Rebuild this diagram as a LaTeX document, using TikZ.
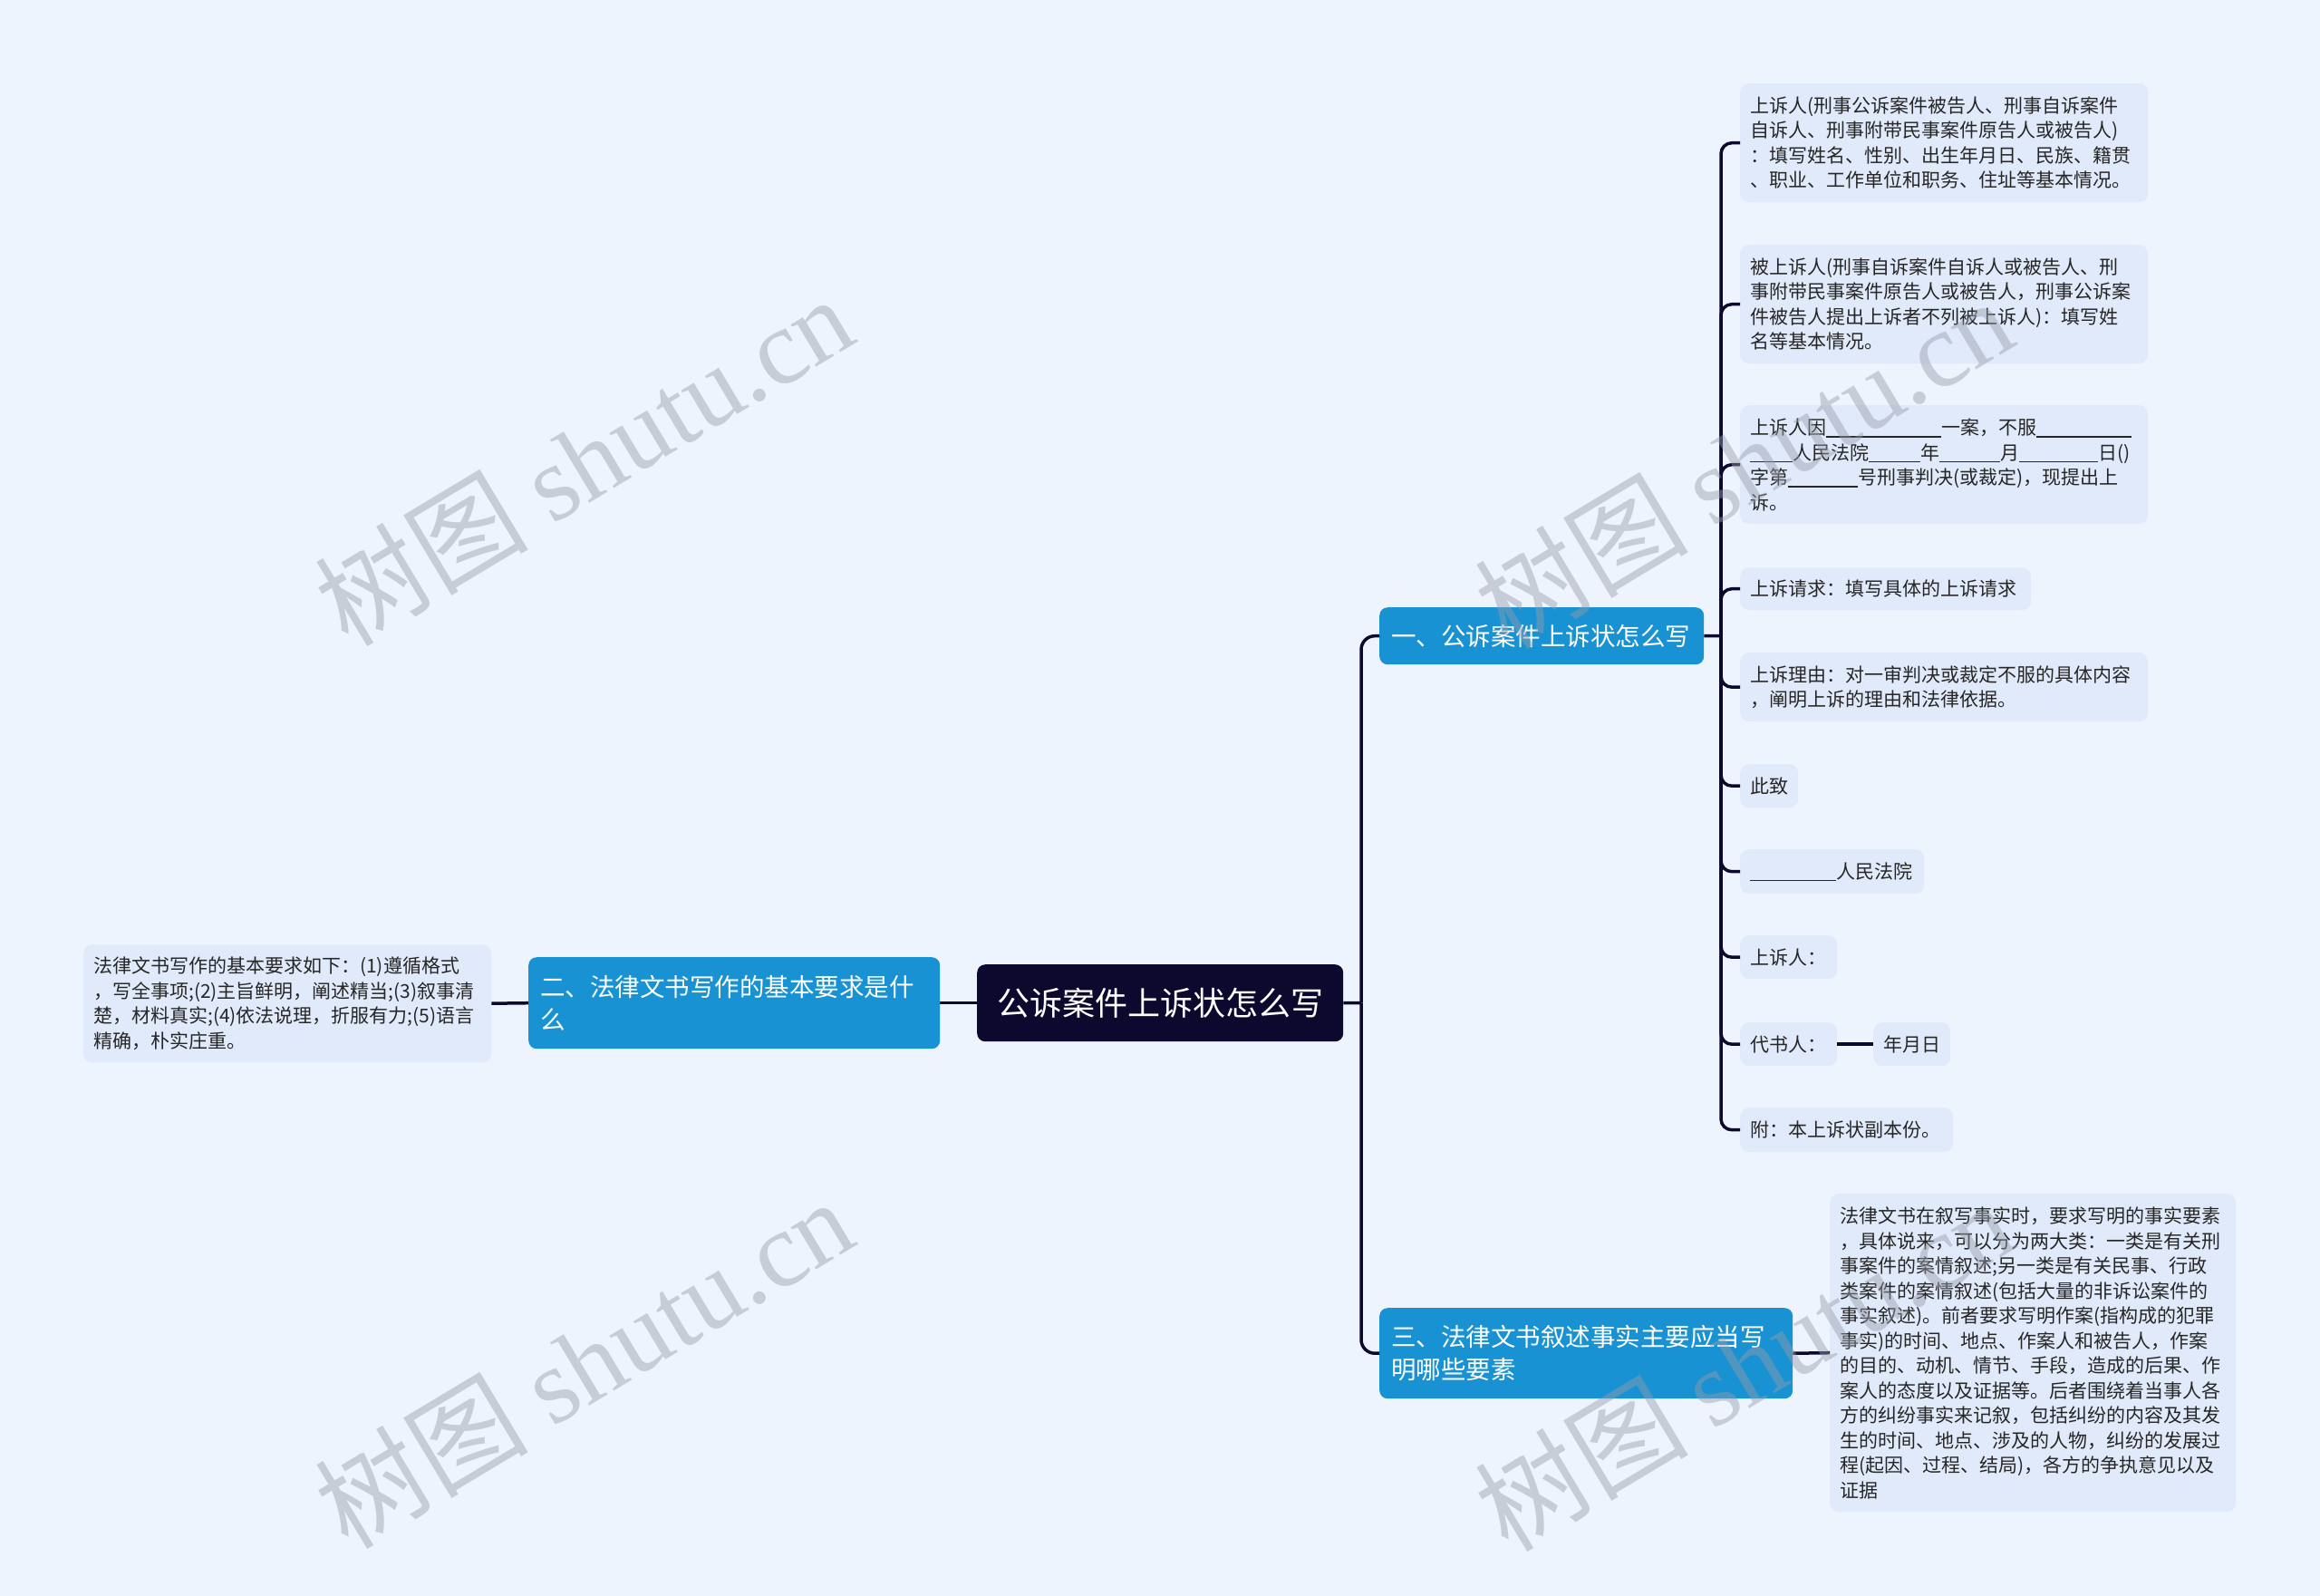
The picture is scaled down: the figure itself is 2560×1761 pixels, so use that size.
\documentclass[tikz,border=0pt]{standalone}
\usepackage{fontspec}
\setmainfont{Noto Sans CJK SC}
\newfontfamily\wmlatin{Liberation Serif}
\definecolor{bgc}{RGB}{238,244,254}
\definecolor{leafc}{RGB}{225,234,250}
\definecolor{bluec}{RGB}{24,146,210}
\definecolor{rootc}{RGB}{12,8,46}
\definecolor{linec}{RGB}{12,8,46}
\definecolor{txtc}{RGB}{38,38,38}
\definecolor{wmc}{RGB}{150,156,170}
\newcommand\blk[1]{\rule[-3pt]{#1pt}{1.2pt}}
\tikzset{
  leaf/.style={fill=leafc, rounded corners=10pt, anchor=north west, inner xsep=11pt, inner ysep=0pt,
    align=left, text=txtc, font=\fontsize{21}{27.5}\selectfont},
  lvl/.style={fill=bluec, rounded corners=9pt, anchor=north west, inner xsep=13pt, inner ysep=0pt,
    align=left, text=white, font=\fontsize{27.5}{36.5}\selectfont},
  rootbox/.style={fill=rootc, rounded corners=9pt, anchor=north west, inner sep=0pt,
    align=center, text=white, font=\fontsize{36}{44}\selectfont},
  conn/.style={draw=linec, line width=3.5pt},
  wm/.style={text=wmc, opacity=0.45, font=\fontsize{118}{120}\selectfont, inner sep=0pt, rotate=31}
}
\begin{document}
\begin{tikzpicture}[x=1pt,y=-1pt]
\useasboundingbox (0,0) rectangle (2560,1761);
\fill[bgc] (0,0) rectangle (2560,1761);

% nodes
\node[rootbox, minimum width=404pt, minimum height=85pt] (root) at (1078,1064) {公诉案件上诉状怎么写};
\node[lvl, text width=428pt, minimum height=101pt] (n2) at (583,1056) {二、法律文书写作的基本要求是什\\么};
\node[lvl, text width=332pt, minimum height=63pt] (n1) at (1522,670) {一、公诉案件上诉状怎么写};
\node[lvl, text width=430pt, minimum height=100pt] (n3) at (1522,1443) {三、法律文书叙述事实主要应当写\\明哪些要素};

\node[leaf, text width=428pt, minimum height=130pt] (ll) at (92,1042) {法律文书写作的基本要求如下：(1)遵循格式\\，写全事项;(2)主旨鲜明，阐述精当;(3)叙事清\\楚，材料真实;(4)依法说理，折服有力;(5)语言\\精确，朴实庄重。};

\node[leaf, text width=428pt, minimum height=131pt] (r1) at (1920,92) {上诉人(刑事公诉案件被告人、刑事自诉案件\\自诉人、刑事附带民事案件原告人或被告人)\\：填写姓名、性别、出生年月日、民族、籍贯\\、职业、工作单位和职务、住址等基本情况。};
\node[leaf, text width=428pt, minimum height=131pt] (r2) at (1920,270) {被上诉人(刑事自诉案件自诉人或被告人、刑\\事附带民事案件原告人或被告人，刑事公诉案\\件被告人提出上诉者不列被上诉人)：填写姓\\名等基本情况。};
\node[leaf, text width=428pt, minimum height=131pt] (r3) at (1920,447) {上诉人因\blk{127}一案，不服\blk{105}\\\blk{47}人民法院\blk{57}年\blk{67}月\blk{87}日()\\字第\blk{77}号刑事判决(或裁定)，现提出上\\诉。};
\node[leaf, text width=299pt, minimum height=47pt] (r4) at (1920,626) {上诉请求：填写具体的上诉请求};
\node[leaf, text width=428pt, minimum height=76pt] (r5) at (1920,720) {上诉理由：对一审判决或裁定不服的具体内容\\，阐明上诉的理由和法律依据。};
\node[leaf, text width=42pt, minimum height=48pt] (r6) at (1920,843) {此致};
\node[leaf, text width=181pt, minimum height=49pt] (r7) at (1920,937) {\blk{95}人民法院};
\node[leaf, text width=85pt, minimum height=48pt] (r8) at (1920,1032) {上诉人：};
\node[leaf, text width=85pt, minimum height=48pt] (r9) at (1920,1128) {代书人：};
\node[leaf, text width=63pt, minimum height=48pt] (r10) at (2067,1128) {年月日};
\node[leaf, text width=213pt, minimum height=49pt] (r11) at (1920,1222) {附：本上诉状副本份。};

\node[leaf, text width=426pt, minimum height=351pt] (l3) at (2019,1317) {法律文书在叙写事实时，要求写明的事实要素\\，具体说来，可以分为两大类：一类是有关刑\\事案件的案情叙述;另一类是有关民事、行政\\类案件的案情叙述(包括大量的非诉讼案件的\\事实叙述)。前者要求写明作案(指构成的犯罪\\事实)的时间、地点、作案人和被告人，作案\\的目的、动机、情节、手段，造成的后果、作\\案人的态度以及证据等。后者围绕着当事人各\\方的纠纷事实来记叙，包括纠纷的内容及其发\\生的时间、地点、涉及的人物，纠纷的发展过\\程(起因、过程、结局)，各方的争执意见以及\\证据};

% connectors
\coordinate (rj) at (1502,1106.5);
\coordinate (j1) at (1899,701.5);
\draw[conn] (root.east) -- (rj);
\draw[conn, rounded corners=15pt] (rj) |- (n1.west);
\draw[conn, rounded corners=15pt] (rj) |- (n3.west);
\draw[conn] (root.west) -- (n2.east);
\draw[conn] (n2.west) -- (ll.east);
\draw[conn] (n1.east) -- (j1);
\foreach \r in {r1,r2,r3,r4,r5,r6,r7,r8,r9,r11}{
  \draw[conn, rounded corners=12pt] (j1) |- (\r.west);
}
\draw[conn] (r9.east) -- (r10.west);
\draw[conn] (n3.east) -- (l3.west);

% watermarks
\node[wm] (w1) at (644,507) {树图 {\wmlatin shutu.cn}};
\node[wm] (w2) at (1924,510) {树图 {\wmlatin shutu.cn}};
\node[wm] (w3) at (644,1503) {树图 {\wmlatin shutu.cn}};
\node[wm] (w4) at (1924,1506) {树图 {\wmlatin shutu.cn}};
\end{tikzpicture}
\end{document}
